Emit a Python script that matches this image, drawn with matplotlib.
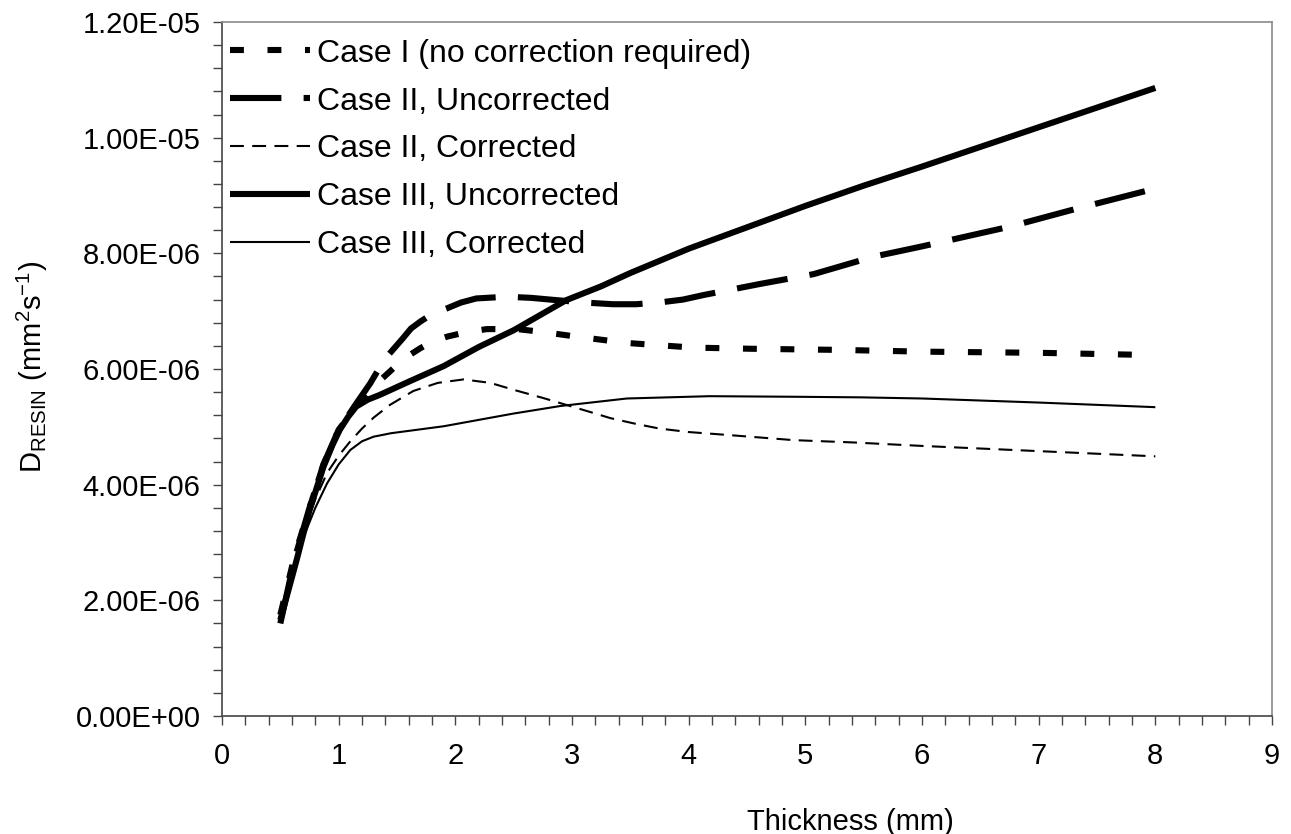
import numpy as np
import matplotlib
matplotlib.use("Agg")
import matplotlib.pyplot as plt
from matplotlib.ticker import MultipleLocator, FuncFormatter

# thickness (mm) and D_resin (x1e-6 mm^2/s)
x_c1 = [0.5, 0.62, 0.75, 0.87, 1.0, 1.15, 1.3, 1.5, 1.6, 1.7, 1.8, 1.93, 2.1, 2.27, 2.53, 2.75, 3.0, 3.47, 4.04,
        4.53, 5.3, 6.0, 7.0, 8.0]
d_c1 = [1.75, 2.75, 3.6, 4.35, 4.95, 5.35, 5.7, 6.07, 6.23, 6.36, 6.47, 6.56, 6.64, 6.69, 6.69, 6.64, 6.57, 6.45,
        6.37, 6.35, 6.33, 6.3, 6.28, 6.24]

x_c2u = [0.5, 0.62, 0.75, 0.87, 1.0, 1.15, 1.27, 1.39, 1.55, 1.62, 1.7, 1.8, 1.93, 2.05, 2.18, 2.44, 2.65, 2.87,
         3.1, 3.35, 3.55, 3.75, 3.95, 4.13, 4.61, 5.07, 5.58, 6.0, 6.75, 7.34, 8.0]
d_c2u = [1.6, 2.7, 3.6, 4.35, 4.95, 5.4, 5.75, 6.16, 6.53, 6.7, 6.82, 6.95, 7.05, 7.15, 7.22, 7.25, 7.23, 7.19,
         7.15, 7.12, 7.12, 7.15, 7.2, 7.28, 7.47, 7.64, 7.94, 8.12, 8.46, 8.78, 9.12]

x_c2c = [0.5, 0.6, 0.7, 0.8, 0.9, 1.0, 1.1, 1.2, 1.3, 1.44, 1.64, 1.85, 2.07, 2.3, 2.5, 2.75, 2.95, 3.15, 3.33,
         3.55, 3.75, 4.0, 4.33, 4.9, 5.41, 6.0, 7.0, 8.0]
d_c2c = [1.7, 2.5, 3.2, 3.75, 4.2, 4.5, 4.75, 4.97, 5.16, 5.38, 5.62, 5.76, 5.82, 5.76, 5.64, 5.5, 5.38, 5.26, 5.15,
         5.05, 4.97, 4.91, 4.86, 4.77, 4.73, 4.67, 4.58, 4.49]

x_c3u = [0.5, 0.64, 0.75, 0.87, 0.95, 1.01, 1.08, 1.15, 1.25, 1.35, 1.6, 1.9, 2.2, 2.5, 2.95, 3.25, 3.5, 4.0, 4.5,
         5.0, 5.5, 6.0, 6.5, 7.0, 7.5, 8.0]
d_c3u = [1.66, 2.7, 3.56, 4.31, 4.7, 4.95, 5.17, 5.35, 5.47, 5.55, 5.78, 6.05, 6.38, 6.67, 7.19, 7.43, 7.66, 8.08,
         8.45, 8.82, 9.17, 9.5, 9.84, 10.18, 10.52, 10.86]

x_c3c = [0.5, 0.6, 0.7, 0.8, 0.9, 1.0, 1.1, 1.2, 1.3, 1.45, 1.6, 1.9, 2.2, 2.5, 2.9, 3.47, 4.18, 4.9, 5.47, 6.0,
         7.0, 8.0]
d_c3c = [1.7, 2.45, 3.1, 3.6, 4.02, 4.35, 4.6, 4.75, 4.83, 4.89, 4.93, 5.01, 5.12, 5.23, 5.36, 5.49, 5.53, 5.52,
         5.51, 5.49, 5.42, 5.34]

labels = ["Case I (no correction required)", "Case II, Uncorrected", "Case II, Corrected",
          "Case III, Uncorrected", "Case III, Corrected"]

plt.rcParams['font.family'] = ['Liberation Sans', 'DejaVu Sans']
plt.rcParams['mathtext.fontset'] = 'custom'
plt.rcParams['mathtext.rm'] = 'Liberation Sans'
plt.rcParams['lines.scale_dashes'] = False

fig = plt.figure(figsize=(12.91, 8.34), dpi=100)
ax = fig.add_axes([222 / 1291, 1 - 716 / 834, 1050 / 1291, 694 / 834])

series = [
    (x_c1, d_c1, 4.4, (0, (10, 17))),
    (x_c2u, d_c2u, 4.4, (0, (37, 16))),
    (x_c2c, d_c2c, 1.5, (0, (10, 6))),
    (x_c3u, d_c3u, 4.4, '-'),
    (x_c3c, d_c3c, 1.5, '-'),
]
for (xs, ds, lw, ls), lab in zip(series, labels):
    ax.plot(xs, np.array(ds) * 1e-6, color='black', lw=lw, linestyle=ls,
            dash_capstyle='butt', solid_capstyle='butt', solid_joinstyle='round',
            dash_joinstyle='round', label=lab)

ax.set_xlim(0, 9)
ax.set_ylim(0, 1.2e-5)
ax.xaxis.set_major_locator(MultipleLocator(1))
ax.xaxis.set_minor_locator(MultipleLocator(0.2))
ax.yaxis.set_major_locator(MultipleLocator(2e-6))
ax.yaxis.set_minor_locator(MultipleLocator(4e-7))
ax.yaxis.set_major_formatter(FuncFormatter(lambda v, p: f"{v:.2E}"))

ax.tick_params(which='both', direction='out', length=6.5, width=1, color='#444444', labelsize=21)
ax.tick_params(axis='x', pad=12)
ax.tick_params(axis='y', pad=9)

for s in ['left', 'bottom']:
    ax.spines[s].set_color('#444444')
    ax.spines[s].set_linewidth(1.2)
for s in ['top', 'right']:
    ax.spines[s].set_color('#8a8a8a')
    ax.spines[s].set_linewidth(1.2)

ax.set_xlabel('Thickness (mm)', fontsize=21)
ax.xaxis.set_label_coords((850 - 222) / 1050, (716 - 808) / 694)
ax.set_ylabel(r'D$_{\mathrm{RESIN}}$ (mm$^{\mathrm{2}}$s$^{\mathrm{-1}}$)', fontsize=21)
ax.yaxis.set_label_coords((50 - 222) / 1050, 0.503)

ax.legend(loc='upper left', bbox_to_anchor=(0.0076, 0.976), frameon=False, fontsize=23,
          handlelength=2.5, handletextpad=0.22, labelspacing=0.56, borderaxespad=0, borderpad=0)

fig.savefig('out.png', dpi=100)
